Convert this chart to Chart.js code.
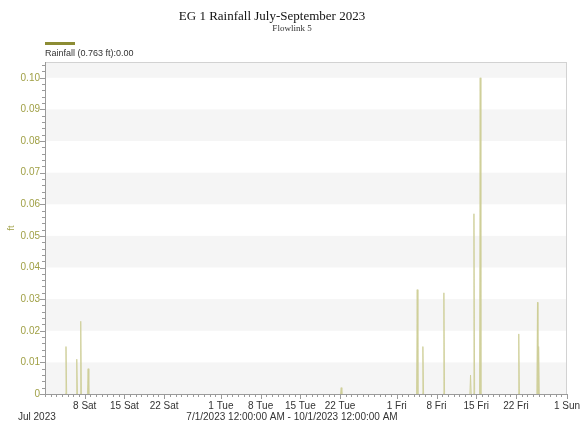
<!DOCTYPE html>
<html>
<head>
<meta charset="utf-8">
<script src="https://cdn.jsdelivr.net/npm/chart.js@4/dist/chart.umd.min.js"></script>
<style>
  html, body { margin: 0; padding: 0; background: #fff; }
  #wrap { width: 581px; height: 426px; position: relative; }
</style>
</head>
<body>
<div id="wrap"><canvas id="c" width="581" height="426"></canvas></div>
<script>
// Rain events: day offset from 7/1/2023 00:00 and depth (ft)
const eventDays   = [3.7, 5.6, 6.3, 7.6, 52.2, 65.6, 66.6, 70.3, 75.0, 75.6, 76.7, 83.5, 86.8, 87.0];
const eventDepths = [0.015, 0.011, 0.023, 0.008, 0.002, 0.033, 0.015, 0.032, 0.006, 0.057, 0.100, 0.019, 0.029, 0.015];

// Axis ticks
const xTickDays   = [7, 14, 21, 31, 38, 45, 52, 62, 69, 76, 83, 92];
const xTickLabels = ['8 Sat', '15 Sat', '22 Sat', '1 Tue', '8 Tue', '15 Tue', '22 Tue', '1 Fri', '8 Fri', '15 Fri', '22 Fri', '1 Sun'];
const yTickValues = [0, 0.01, 0.02, 0.03, 0.04, 0.05, 0.06, 0.07, 0.08, 0.09, 0.10];
const yTickLabels = ['0', '0.01', '0.02', '0.03', '0.04', '0.05', '0.06', '0.07', '0.08', '0.09', '0.10'];

const totalDays = 92;
const spikeHalfWidth = 0.12;

// Each event becomes a narrow peak rising from and returning to zero
const points = [{ x: 0, y: 0 }];
eventDays.forEach((d, i) => {
  points.push({ x: d - spikeHalfWidth, y: 0 });
  points.push({ x: d, y: eventDepths[i] });
  points.push({ x: d + spikeHalfWidth, y: 0 });
});
points.push({ x: totalDays, y: 0 });
points.sort((a, b) => a.x - b.x);

const OLIVE_TXT = '#a0a046';
const AXIS = '#9a9a9a';

const decor = {
  id: 'decor',
  beforeDatasetsDraw(chart) {
    const { ctx, chartArea: a, scales: { y } } = chart;
    ctx.save();
    // alternating horizontal bands
    ctx.fillStyle = '#f5f5f5';
    for (let k = 0; k * 0.01 < y.max; k += 2) {
      const v = k * 0.01;
      const top = y.getPixelForValue(Math.min(v + 0.01, y.max));
      const bot = y.getPixelForValue(v);
      ctx.fillRect(a.left, top, a.right - a.left, bot - top);
    }
    ctx.restore();
  },
  afterDatasetsDraw(chart) {
    const { ctx, chartArea: a, scales: { x, y } } = chart;
    ctx.save();
    // frame
    ctx.strokeStyle = '#d2d2d2';
    ctx.lineWidth = 1;
    ctx.strokeRect(a.left + 0.5, a.top + 0.5, a.right - a.left - 1, a.bottom - a.top);
    // axis lines
    ctx.strokeStyle = AXIS;
    ctx.beginPath();
    ctx.moveTo(a.left + 0.5, a.top);
    ctx.lineTo(a.left + 0.5, a.bottom + 0.5);
    ctx.lineTo(a.right, a.bottom + 0.5);
    ctx.stroke();
    // y tick marks (major every 0.01, minor every 0.002)
    ctx.beginPath();
    for (let k = 0; k * 0.002 <= y.max + 1e-9; k++) {
      const py = Math.round(y.getPixelForValue(k * 0.002)) + 0.5;
      const len = (k % 5 === 0) ? 5 : 3;
      ctx.moveTo(a.left - len, py);
      ctx.lineTo(a.left, py);
    }
    // x tick marks (minor every day, major at labelled days)
    for (let d = 0; d <= totalDays; d++) {
      const px = Math.round(x.getPixelForValue(d)) + 0.5;
      const len = xTickDays.includes(d) ? 5 : 3;
      ctx.moveTo(px, a.bottom);
      ctx.lineTo(px, a.bottom + len);
    }
    ctx.stroke();
    ctx.restore();
  },
  afterDraw(chart) {
    const { ctx } = chart;
    ctx.save();
    // titles
    ctx.fillStyle = '#111';
    ctx.textAlign = 'center';
    ctx.textBaseline = 'middle';
    ctx.font = '13px "Liberation Serif", "Times New Roman", serif';
    ctx.fillText('EG 1 Rainfall July-September 2023', 272, 17);
    ctx.font = '9px "Liberation Serif", "Times New Roman", serif';
    ctx.fillStyle = '#333';
    ctx.fillText('Flowlink 5', 292, 29);
    // legend
    ctx.fillStyle = '#8c8c34';
    ctx.fillRect(45, 42, 30, 3);
    ctx.textAlign = 'left';
    ctx.fillStyle = '#333';
    ctx.font = '9px "Liberation Sans", Arial, sans-serif';
    ctx.fillText('Rainfall (0.763 ft):0.00', 45, 54);
    // axis captions
    ctx.font = '10px "Liberation Sans", Arial, sans-serif';
    ctx.fillStyle = '#333';
    ctx.fillText('Jul 2023', 18, 417);
    ctx.textAlign = 'center';
    ctx.fillText('7/1/2023 12:00:00 AM - 10/1/2023 12:00:00 AM', 292, 417);
    ctx.save();
    ctx.translate(12, 228);
    ctx.rotate(-Math.PI / 2);
    ctx.fillStyle = OLIVE_TXT;
    ctx.font = '9px "Liberation Sans", Arial, sans-serif';
    ctx.fillText('ft', 0, 0);
    ctx.restore();
    ctx.restore();
  }
};

new Chart(document.getElementById('c'), {
  type: 'line',
  data: {
    datasets: [{
      label: 'Rainfall',
      data: points,
      borderColor: 'rgba(206,206,152,0.9)',
      backgroundColor: 'rgba(225,225,180,0.45)',
      borderWidth: 1,
      fill: 'origin',
      pointRadius: 0,
      tension: 0,
      segment: {
        borderColor: c => (c.p0.parsed.y === 0 && c.p1.parsed.y === 0) ? 'rgba(0,0,0,0)' : undefined
      }
    }]
  },
  options: {
    responsive: false,
    animation: false,
    layout: { padding: { top: 62, right: 14, left: 0, bottom: 0 } },
    plugins: { legend: { display: false }, tooltip: { enabled: false } },
    scales: {
      x: {
        type: 'linear',
        min: 0,
        max: totalDays,
        afterBuildTicks: s => { s.ticks = xTickDays.map(v => ({ value: v })); },
        afterFit: s => { s.height = 32; s.paddingLeft = 0; s.paddingRight = 0; },
        grid: { display: false, drawTicks: false },
        border: { display: false },
        ticks: {
          autoSkip: false,
          maxRotation: 0,
          padding: 6,
          color: '#333',
          font: { family: '"Liberation Sans", Arial, sans-serif', size: 10 },
          callback: v => xTickLabels[xTickDays.indexOf(v)] ?? ''
        }
      },
      y: {
        min: 0,
        max: 0.105,
        afterBuildTicks: s => { s.ticks = yTickValues.map(v => ({ value: v })); },
        afterFit: s => { s.width = 45; s.paddingTop = 0; s.paddingBottom = 0; },
        grid: { display: false, drawTicks: false },
        border: { display: false },
        ticks: {
          autoSkip: false,
          padding: 5,
          color: OLIVE_TXT,
          font: { family: '"Liberation Sans", Arial, sans-serif', size: 10 },
          callback: v => {
            const i = yTickValues.findIndex(t => Math.abs(t - v) < 1e-9);
            return i >= 0 ? yTickLabels[i] : '';
          }
        }
      }
    }
  },
  plugins: [decor]
});
</script>
</body>
</html>
